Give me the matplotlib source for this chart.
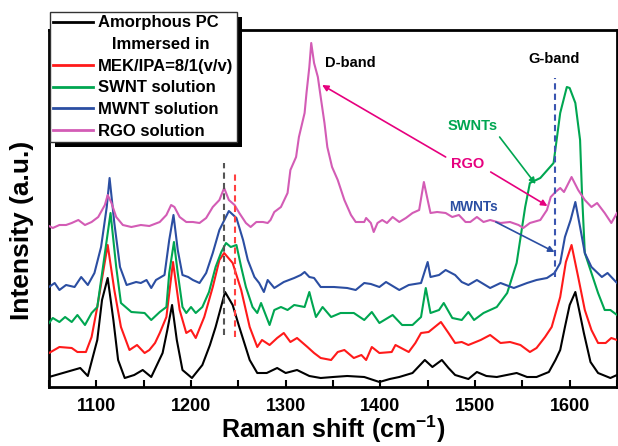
import matplotlib
matplotlib.use("Agg")
import matplotlib.pyplot as plt
from matplotlib.lines import Line2D
from matplotlib.patches import Rectangle
from matplotlib.transforms import IdentityTransform
from matplotlib.ticker import MultipleLocator

plt.rcParams['font.family'] = ['Liberation Sans', 'DejaVu Sans']
plt.rcParams['font.weight'] = 'bold'
plt.rcParams['mathtext.fontset'] = 'custom'
plt.rcParams['mathtext.rm'] = 'Liberation Sans:bold'
plt.rcParams['mathtext.bf'] = 'Liberation Sans:bold'
plt.rcParams['mathtext.it'] = 'Liberation Sans:bold'

# ---------------- data (Raman shift, offset intensity) ----------------
black_x = [1050, 1083, 1091, 1101, 1106, 1112, 1118, 1123, 1130, 1140, 1149, 1158, 1163, 1170, 1175, 1180,
           1185, 1191, 1201, 1212, 1220, 1226, 1236, 1244, 1251, 1262, 1270, 1280, 1291, 1300, 1312, 1325,
           1337, 1350, 1365, 1383, 1399, 1410, 1420, 1434, 1447, 1455, 1465, 1472, 1479, 1493, 1502, 1512,
           1523, 1544, 1555, 1565, 1578, 1585, 1590, 1595, 1600, 1606, 1610, 1615, 1622, 1630, 1643, 1650]
black_y = [10, 19, 11, 47, 87, 109, 67, 27, 9, 12, 17, 10, 20, 34, 57, 82,
           47, 17, 9, 22, 42, 60, 95, 82, 60, 27, 14, 14, 19, 14, 17, 11,
           9, 10, 11, 10, 5, 8, 10, 14, 27, 20, 27, 19, 12, 8, 15, 11,
           10, 14, 10, 10, 15, 27, 37, 60, 82, 95, 77, 54, 25, 14, 9, 12]

red_x = [1050, 1061, 1074, 1080, 1089, 1095, 1101, 1107, 1112, 1119, 1126, 1135, 1143, 1151, 1156, 1162,
         1167, 1174, 1181, 1188, 1195, 1200, 1205, 1214, 1223, 1230, 1235, 1244, 1253, 1262, 1270, 1275,
         1283, 1291, 1298, 1305, 1312, 1323, 1330, 1337, 1348, 1355, 1362, 1372, 1380, 1385, 1391, 1399,
         1412, 1416, 1430, 1437, 1443, 1451, 1464, 1472, 1479, 1486, 1493, 1506, 1516, 1527, 1537, 1548,
         1558, 1565, 1574, 1581, 1590, 1596, 1602, 1609, 1616, 1623, 1630, 1638, 1644, 1650]
red_y = [34, 40, 39, 35, 35, 50, 80, 114, 142, 97, 60, 37, 42, 34, 37, 44,
         54, 70, 125, 77, 54, 57, 49, 70, 100, 127, 134, 124, 97, 60, 40, 47,
         42, 49, 54, 45, 49, 40, 34, 29, 27, 35, 37, 29, 32, 27, 40, 34,
         35, 42, 35, 44, 54, 55, 65, 54, 44, 45, 42, 47, 52, 44, 45, 42,
         35, 39, 50, 60, 90, 125, 142, 110, 77, 57, 44, 44, 49, 47]

green_x = [1050, 1054, 1061, 1067, 1074, 1080, 1088, 1095, 1101, 1107, 1115, 1121, 1126, 1137, 1151, 1158,
           1167, 1174, 1177, 1182, 1186, 1191, 1195, 1200, 1205, 1212, 1219, 1226, 1232, 1237, 1242, 1248,
           1253, 1258, 1265, 1270, 1274, 1283, 1288, 1295, 1302, 1309, 1320, 1325, 1328, 1332, 1339, 1348,
           1358, 1372, 1383, 1391, 1399, 1413, 1423, 1434, 1443, 1448, 1453, 1462, 1467, 1476, 1486, 1493,
           1499, 1509, 1523, 1534, 1544, 1553, 1558, 1569, 1583, 1590, 1597, 1600, 1606, 1611, 1613, 1616,
           1623, 1630, 1637, 1643, 1650]
green_y = [64, 69, 65, 70, 65, 72, 62, 74, 80, 120, 174, 120, 84, 75, 74, 67,
           75, 80, 114, 145, 114, 80, 74, 80, 74, 80, 95, 120, 135, 144, 140, 142,
           120, 100, 80, 74, 84, 62, 77, 80, 77, 82, 80, 95, 84, 70, 80, 70,
           74, 74, 67, 75, 64, 72, 62, 62, 70, 99, 74, 77, 84, 69, 67, 75,
           67, 74, 80, 94, 124, 180, 204, 209, 224, 274, 300, 299, 284, 247, 194, 134,
           114, 94, 77, 77, 72]

blue_x = [1050, 1056, 1061, 1068, 1077, 1084, 1091, 1098, 1105, 1111, 1114, 1119, 1125, 1132, 1142, 1147,
          1153, 1158, 1163, 1172, 1177, 1181.5, 1186, 1191, 1197, 1202, 1209, 1216, 1223, 1230, 1240, 1248,
          1255, 1260, 1267, 1272, 1277, 1281, 1288, 1298, 1309, 1316, 1320, 1325, 1330, 1337, 1351, 1365,
          1374, 1383, 1390, 1399, 1406, 1420, 1430, 1443, 1450, 1453, 1462, 1469, 1479, 1486, 1493, 1502,
          1516, 1527, 1541, 1555, 1565, 1576, 1584, 1590, 1595, 1601, 1606, 1611, 1616, 1623, 1634, 1640,
          1650]
blue_y = [100, 104, 97, 102, 100, 110, 102, 114, 140, 180, 209, 164, 120, 102, 105, 104,
          107, 99, 107, 112, 147, 172, 137, 112, 110, 107, 104, 114, 134, 157, 176, 169,
          147, 127, 110, 104, 95, 107, 99, 105, 109, 112, 115, 110, 109, 100, 100, 99,
          97, 104, 103, 100, 105, 97, 102, 104, 125, 110, 112, 117, 112, 105, 102, 107,
          99, 104, 99, 104, 107, 109, 114, 124, 150, 167, 185, 160, 134, 120, 110, 114,
          104]

pink_x = [1050, 1054, 1061, 1068, 1074, 1081, 1088, 1095, 1102, 1109, 1112, 1116, 1121, 1128, 1137, 1147,
          1156, 1167, 1174, 1179, 1182.5, 1188, 1195, 1202, 1209, 1216, 1223, 1230, 1235, 1240, 1246, 1251,
          1258, 1263, 1269, 1276, 1281, 1284, 1288, 1295, 1302, 1305, 1311, 1314, 1320, 1322, 1325, 1327,
          1330, 1334, 1337, 1341, 1344, 1349, 1355, 1362, 1369, 1374, 1383, 1385, 1390, 1393, 1397, 1402,
          1407, 1413, 1420, 1427, 1434, 1441, 1444, 1446, 1450, 1453, 1460, 1469, 1476, 1483, 1490, 1495,
          1502, 1509, 1516, 1527, 1537, 1546, 1551, 1558, 1569, 1576, 1580, 1585, 1590, 1594, 1602, 1609,
          1616, 1623, 1629, 1637, 1644, 1650]
pink_y = [161, 159, 162, 162, 164, 167, 162, 165, 170, 182, 192, 184, 170, 162, 160, 162,
          161, 165, 172, 182, 180, 170, 165, 165, 164, 169, 180, 187, 199, 187, 182, 174,
          164, 160, 165, 165, 164, 167, 175, 180, 194, 217, 230, 250, 274, 294, 320, 344,
          324, 310, 290, 264, 240, 220, 207, 187, 172, 165, 165, 169, 164, 155, 164, 167,
          164, 170, 165, 169, 174, 177, 194, 205, 187, 174, 175, 174, 170, 172, 165, 165,
          170, 165, 167, 164, 165, 162, 159, 164, 167, 177, 190, 195, 199, 195, 210, 197,
          187, 180, 184, 174, 164, 174]

series_labels = ['Amorphous PC', 'MEK/IPA=8/1(v/v)', 'SWNT solution', 'MWNT solution', 'RGO solution']
series_colors = ['#000000', '#ff1a1a', '#00a651', '#2b4ea2', '#d35cb5']

xticks = [1100, 1200, 1300, 1400, 1500, 1600]

# ---------------- figure ----------------
W, H = 618, 446
fig = plt.figure(figsize=(W / 100, H / 100), dpi=100)
ax = fig.add_axes([49 / W, 59 / H, 568 / W, 357 / H])

lw = 1.5
series = [(black_x, black_y), (red_x, red_y), (green_x, green_y), (blue_x, blue_y), (pink_x, pink_y)]
for (xs, ys), c in zip(series, series_colors):
    ax.plot(xs, ys, color=c, lw=lw, zorder=3)

ax.set_xlim(1050, 1650)
ax.set_ylim(0, 357)
ax.set_xticks(xticks)
ax.xaxis.set_minor_locator(MultipleLocator(50))
ax.set_yticks([])
ax.tick_params(axis='x', which='both', direction='in', length=5, width=1.5, top=False,
               labelsize=13, pad=8)
for lab in ax.get_xticklabels():
    lab.set_fontweight('bold')
for s in ax.spines.values():
    s.set_linewidth(2)

ax.set_xlabel('Raman shift (cm$^{-1}$)', fontsize=18, fontweight='bold', labelpad=-1)
ax.set_ylabel('Intensity (a.u.)', fontsize=19, fontweight='bold')
ax.yaxis.set_label_coords(-0.026, 0.44)

# dashed reference lines
ax.plot([1235, 1235], [52, 224], color='#555555', lw=1.5, ls=(0, (3, 2)), zorder=4)
ax.plot([1246.5, 1246.5], [50, 215], color='#ff4040', lw=1.5, ls=(0, (3, 2)), zorder=4)
ax.plot([1585, 1585], [110, 309], color='#3a55b0', lw=1.5, ls=(0, (3, 2)), zorder=4)

# annotations
fs_ann = 10.5
ax.text(1368, 324, 'D-band', fontsize=fs_ann, fontweight='bold', ha='center', va='center')
ax.text(1583, 328, 'G-band', fontsize=fs_ann, fontweight='bold', ha='center', va='center')
ax.text(1497, 261, 'SWNTs', fontsize=fs_ann, fontweight='bold', color='#00a651', ha='center', va='center')
ax.text(1492, 223, 'RGO', fontsize=fs_ann, fontweight='bold', color='#e6007e', ha='center', va='center')
ax.text(1498, 180, 'MWNTs', fontsize=9.8, fontweight='bold', color='#2b4ea2', ha='center', va='center')

def arrow(x0, y0, x1, y1, c):
    ax.annotate('', xy=(x1, y1), xytext=(x0, y0),
                arrowprops=dict(arrowstyle='-|>', color=c, lw=1.2, mutation_scale=9,
                                shrinkA=0, shrinkB=0), zorder=5)

arrow(1469, 230, 1338.5, 302, '#e6007e')
arrow(1516.6, 215, 1576.5, 181, '#e6007e')
arrow(1526, 250, 1564, 203, '#00a651')
arrow(1522, 165, 1584, 135, '#2b4ea2')

# legend
handles = [Line2D([], [], color=series_colors[0], lw=2),
           Line2D([], [], color='none', lw=2),
           Line2D([], [], color=series_colors[1], lw=2),
           Line2D([], [], color=series_colors[2], lw=2),
           Line2D([], [], color=series_colors[3], lw=2),
           Line2D([], [], color=series_colors[4], lw=2)]
labels = [series_labels[0], '   Immersed in'] + series_labels[1:]
leg = ax.legend(handles, labels, loc='upper left', bbox_to_anchor=(50 / W, 1 - 12 / H),
                bbox_transform=fig.transFigure, borderaxespad=0, fancybox=False,
                frameon=True, framealpha=1, edgecolor='#333333',
                prop={'weight': 'bold', 'size': 12},
                handlelength=2.4, handletextpad=0.3, labelspacing=0.4,
                borderpad=0.2)
leg.get_frame().set_linewidth(1.0)
leg.set_zorder(6)

fig.canvas.draw()
bb = leg.get_window_extent()
shadow = Rectangle((bb.x0 + 5, bb.y0 - 5), bb.width, bb.height, transform=IdentityTransform(),
                   facecolor='black', edgecolor='none', zorder=5.5, clip_on=False)
ax.add_artist(shadow)

fig.savefig('out.png', dpi=100)
